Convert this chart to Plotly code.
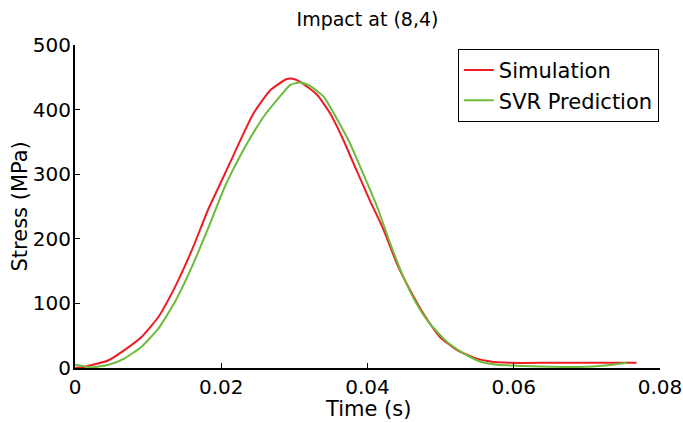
import plotly.graph_objects as go

# Simulation (red)
sim_t = [0.0, 0.0014, 0.0046, 0.0068, 0.0091, 0.0114, 0.0137, 0.016, 0.0182, 0.0201,
         0.0217, 0.0223, 0.0244, 0.0267, 0.0289, 0.0296, 0.0308, 0.0331, 0.0349, 0.0367,
         0.0385, 0.0403, 0.0422, 0.044, 0.0458, 0.0476, 0.0499, 0.0522, 0.0545, 0.0568,
         0.0595, 0.065, 0.070, 0.0768]
sim_s = [0, 2, 12, 28, 48, 79, 126, 183, 245, 291,
         330, 345, 394, 430, 447, 448, 443, 423, 394, 353,
         306, 260, 214, 162, 121, 85, 48, 28, 16, 10,
         8, 8, 8, 8]

# SVR prediction (green)
svr_t = [0.0, 0.0023, 0.0046, 0.0068, 0.0091, 0.0114, 0.0137, 0.016, 0.0182, 0.0205,
         0.023, 0.0238, 0.0258, 0.028, 0.0294, 0.0308, 0.0321, 0.034, 0.0358, 0.0376,
         0.0394, 0.0413, 0.0431, 0.0449, 0.0467, 0.0485, 0.0508, 0.0531, 0.0554, 0.0577,
         0.0595, 0.065, 0.070, 0.0735, 0.0755]
svr_s = [5, 1, 5, 15, 33, 61, 103, 157, 216, 281,
         337, 353, 389, 420, 438, 442, 437, 420, 386, 348,
         301, 250, 193, 141, 100, 69, 41, 23, 10, 5,
         4, 2, 2, 5, 8]

x_ticks = [0, 0.02, 0.04, 0.06, 0.08]
x_labels = ["0", "0.02", "0.04", "0.06", "0.08"]
y_ticks = [0, 100, 200, 300, 400, 500]

FONT = "DejaVu Sans"

fig = go.Figure()
fig.add_trace(go.Scatter(x=sim_t, y=sim_s, mode="lines", name="Simulation",
                         line=dict(color="#ee1c24", width=2, shape="spline", smoothing=0.5)))
fig.add_trace(go.Scatter(x=svr_t, y=svr_s, mode="lines", name="SVR Prediction",
                         line=dict(color="#6cbb3c", width=2, shape="spline", smoothing=0.5)))

fig.update_layout(
    width=683, height=423,
    margin=dict(l=75, r=23, t=45, b=55, autoexpand=False),
    paper_bgcolor="white", plot_bgcolor="white",
    font=dict(family=FONT, size=20, color="black"),
    title=dict(text="Impact at (8,4)", x=0.5, xanchor="center", xref="paper",
               y=1 - 19 / 423, yref="container", yanchor="middle", font=dict(size=19)),
    xaxis=dict(range=[0, 0.08], tickvals=x_ticks, ticktext=x_labels,
               ticks="inside", ticklen=5, tickwidth=1, tickcolor="black",
               showline=True, linecolor="black", linewidth=2, showgrid=False,
               zeroline=False, automargin=False, tickfont=dict(size=20)),
    yaxis=dict(range=[0, 500], tickvals=y_ticks,
               ticks="inside", ticklen=5, tickwidth=1, tickcolor="black",
               showline=True, linecolor="black", linewidth=2, showgrid=False,
               zeroline=False, automargin=False, tickfont=dict(size=20),
               ticklabelstandoff=-2),
    legend=dict(x=0.998, y=0.988, xanchor="right", yanchor="top",
                bgcolor="white", bordercolor="black", borderwidth=1,
                font=dict(size=21), tracegroupgap=0, itemwidth=30),
    showlegend=True,
    annotations=[
        dict(text="Time (s)", xref="paper", yref="paper", x=0.5, y=0,
             xanchor="center", yanchor="middle", yshift=-41, showarrow=False,
             font=dict(size=21)),
        dict(text="Stress (MPa)", xref="paper", yref="paper", x=0, y=0.5,
             xanchor="center", yanchor="middle", xshift=-56, showarrow=False,
             textangle=-90, font=dict(size=21)),
    ],
)

fig.write_html("out.html", config={"displayModeBar": False},
               post_script="document.body.style.margin='0';")
